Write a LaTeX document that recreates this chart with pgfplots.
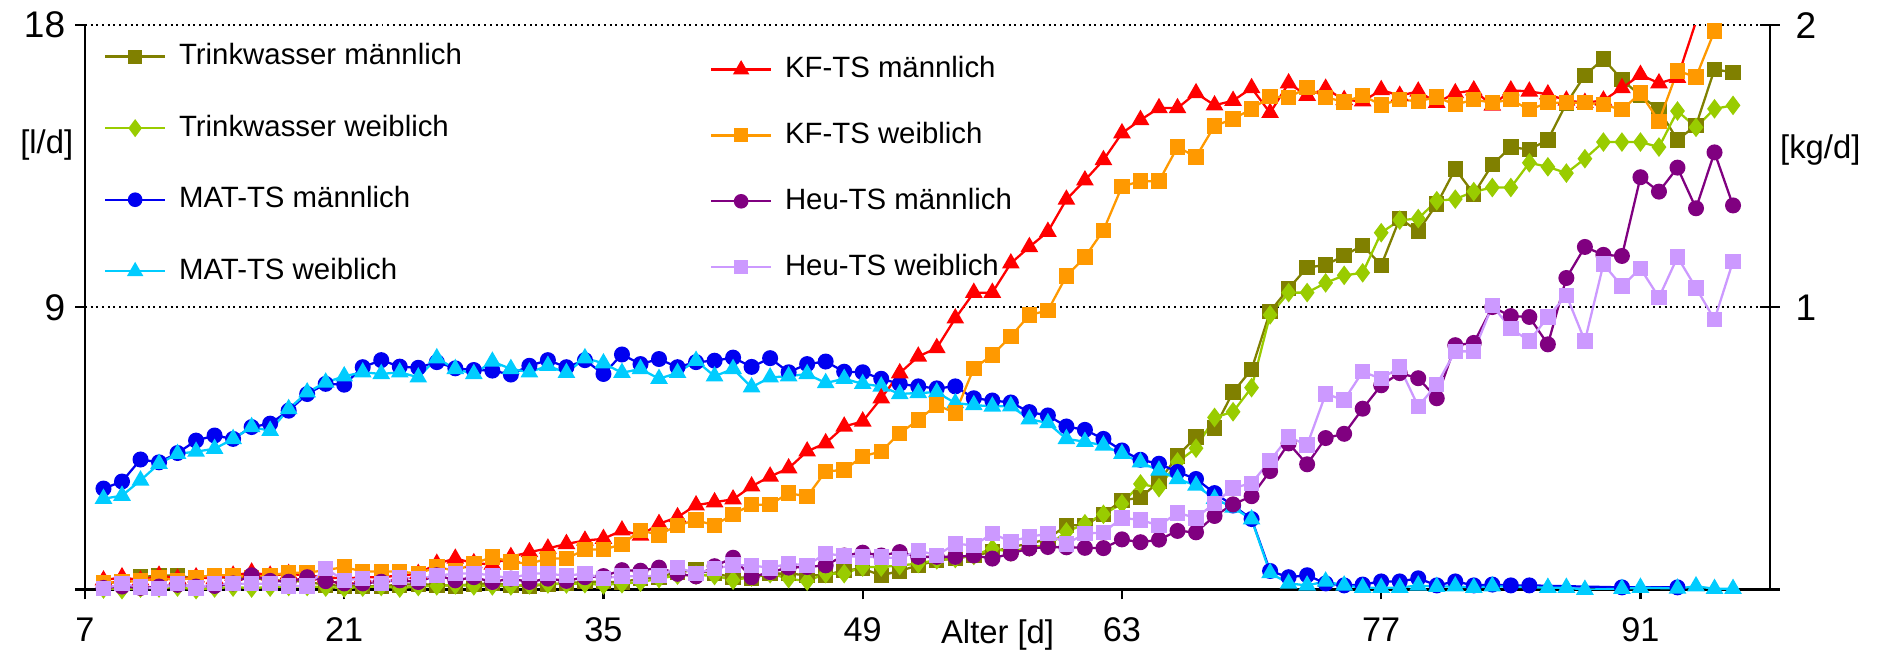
\documentclass[border=0pt]{standalone}
\usepackage{fontspec}
\setmainfont{Liberation Sans}
\usepackage{pgfplots}
\pgfplotsset{compat=1.18}
\definecolor{twm}{HTML}{808000}
\definecolor{tww}{HTML}{99CC00}
\definecolor{matm}{HTML}{0000F0}
\definecolor{matw}{HTML}{00CCFF}
\definecolor{kfm}{HTML}{FF0000}
\definecolor{kfw}{HTML}{FF9900}
\definecolor{heum}{HTML}{800080}
\definecolor{heuw}{HTML}{CC99FF}
\pgfplotsset{
  base/.style={scale only axis, width=591pt, height=198pt, xmin=7, xmax=98,
    /pgf/number format/assume math mode=true,
    tick label style={black},
    yticklabel style={font=\fontsize{13}{15}\selectfont},
    xticklabel style={font=\fontsize{12}{14}\selectfont},
    label style={font=\fontsize{11.5}{13}\selectfont},
    axis line style={line width=0.9pt},
    tick style={black, line width=0.8pt},
    legend cell align={left},
    legend image code/.code={\draw[mark repeat=2,mark phase=2,#1,mark options={scale=0.9}] plot coordinates {(0pt,0pt) (10.5pt,0pt) (21pt,0pt)};},
  },
  ser/.style={line width=0.8pt, color=#1, mark options={solid, fill=#1, draw=#1}},
  leg/.style={draw=none, fill=none, inner sep=0pt, anchor=north west,
    font=\fontsize{10.3}{12}\selectfont,
    nodes={inner sep=1pt, text height=8pt, text depth=2.2pt},
    /tikz/every odd column/.append style={column sep=3.5pt}},
}
\begin{document}
\begin{tikzpicture}
\useasboundingbox (-29.8pt,-22.1pt) rectangle (629.2pt,206.8pt);
\begin{axis}[base,
  ymin=0, ymax=18,
  axis x line*=bottom, axis y line*=left,
  xtick={7,21,35,49,63,77,91},
  ytick={0,9,18}, yticklabels={,9,18},
  tick align=outside, major tick length=3.4pt,
  xticklabel style={yshift=-3pt},
  ymajorgrids, grid style={black, line width=0.7pt, dash pattern=on 0.7pt off 1.3pt},
  xlabel={Alter [d]},
  xlabel style={at={(axis description cs:0.5416,0)}, anchor=base, yshift=-18.8pt},
  ylabel={[l/d]},
  ylabel style={rotate=-90, at={(axis description cs:-0.0227,0.787)}, anchor=center},
  legend style={leg, at={(axis description cs:0.011,0.976)}, row sep=12.9pt},
]
\addplot[ser=twm, mark=square*, mark size=2.3pt] coordinates {(8,0.20)(9,0.25)(10,0.40)(11,0.45)(12,0.45)(13,0.35)(14,0.42)(15,0.35)(16,0.38)(17,0.30)(18,0.28)(19,0.25)(20,0.15)(21,0.12)(22,0.10)(23,0.12)(24,0.15)(25,0.18)(26,0.15)(27,0.12)(28,0.18)(29,0.20)(30,0.15)(31,0.10)(32,0.18)(33,0.20)(34,0.25)(35,0.25)(36,0.24)(37,0.35)(38,0.40)(39,0.56)(40,0.62)(41,0.51)(42,0.40)(43,0.37)(44,0.51)(45,0.51)(46,0.46)(47,0.46)(48,0.62)(49,0.67)(50,0.45)(51,0.60)(52,0.77)(53,0.93)(54,0.99)(55,1.09)(56,1.20)(57,1.36)(58,1.46)(59,1.62)(60,2.05)(61,2.05)(62,2.40)(63,2.85)(64,2.93)(65,3.45)(66,4.26)(67,4.87)(68,5.15)(69,6.30)(70,7.02)(71,8.87)(72,9.60)(73,10.27)(74,10.35)(75,10.65)(76,10.98)(77,10.34)(78,11.83)(79,11.43)(80,12.29)(81,13.41)(82,12.62)(83,13.55)(84,14.11)(85,14.03)(86,14.34)(87,15.50)(88,16.40)(89,16.92)(90,16.26)(91,15.75)(92,15.30)(93,14.34)(94,14.80)(95,16.59)(96,16.49)};
\addplot[ser=tww, mark=diamond*, mark size=2.8pt] coordinates {(8,0.02)(9,0.00)(10,0.05)(11,0.05)(12,0.08)(13,0.00)(14,0.05)(15,0.08)(16,0.05)(17,0.08)(18,0.10)(19,0.10)(20,0.08)(21,0.05)(22,0.08)(23,0.10)(24,0.05)(25,0.10)(26,0.12)(27,0.15)(28,0.12)(29,0.12)(30,0.12)(31,0.15)(32,0.18)(33,0.18)(34,0.19)(35,0.15)(36,0.19)(37,0.24)(38,0.35)(39,0.46)(40,0.46)(41,0.45)(42,0.30)(43,0.40)(44,0.51)(45,0.35)(46,0.27)(47,0.51)(48,0.51)(49,0.72)(50,0.72)(51,0.77)(52,0.83)(53,0.95)(54,0.99)(55,1.09)(56,1.31)(57,1.20)(58,1.36)(59,1.41)(60,1.84)(61,2.10)(62,2.40)(63,2.74)(64,3.37)(65,3.25)(66,4.07)(67,4.51)(68,5.49)(69,5.67)(70,6.44)(71,8.76)(72,9.47)(73,9.47)(74,9.78)(75,10.02)(76,10.10)(77,11.38)(78,11.78)(79,11.83)(80,12.40)(81,12.45)(82,12.69)(83,12.82)(84,12.82)(85,13.61)(86,13.48)(87,13.28)(88,13.74)(89,14.27)(90,14.27)(91,14.27)(92,14.11)(93,15.26)(94,14.74)(95,15.33)(96,15.44)};
\addlegendimage{ser=matm, mark=*, mark size=2.4pt}
\addlegendimage{ser=matw, mark=triangle*, mark size=2.8pt}
\legend{Trinkwasser männlich, Trinkwasser weiblich, MAT-TS männlich, MAT-TS weiblich}
\end{axis}
\begin{axis}[base,
  ymin=0, ymax=2,
  hide x axis, axis y line*=right,
  ytick={0,1,2}, yticklabels={,1,2},
  tick align=center, major tick length=6.8pt,
  yticklabel style={xshift=2pt},
  ylabel={[kg/d]},
  ylabel style={rotate=-90, at={(axis description cs:1.0298,0.779)}, anchor=center},
  legend style={leg, at={(axis description cs:0.3706,0.953)}, row sep=10.9pt},
]
\addplot[ser=matm, mark=*, mark size=2.4pt, forget plot] coordinates {(8,.358)(9,.383)(10,.461)(11,.451)(12,.484)(13,.528)(14,.546)(15,.534)(16,.576)(17,.588)(18,.634)(19,.693)(20,.729)(21,.726)(22,.788)(23,.813)(24,.790)(25,.786)(26,.806)(27,.784)(28,.778)(29,.776)(30,.762)(31,.793)(32,.813)(33,.788)(34,.813)(35,.764)(36,.833)(37,.799)(38,.817)(39,.788)(40,.806)(41,.811)(42,.822)(43,.789)(44,.820)(45,.770)(46,.799)(47,.808)(48,.772)(49,.770)(50,.747)(51,.729)(52,.720)(53,.713)(54,.720)(55,.678)(56,.670)(57,.663)(58,.629)(59,.617)(60,.578)(61,.566)(62,.534)(63,.493)(64,.460)(65,.446)(66,.417)(67,.392)(68,.342)(69,.298)(70,.250)(71,.066)(72,.044)(73,.051)(74,.022)(75,.015)(76,.018)(77,.029)(78,.029)(79,.040)(80,.015)(81,.029)(82,.015)(83,.018)(84,.015)(85,.015)(90,.008)(93,.008)};
\addplot[ser=matw, mark=triangle*, mark size=2.8pt, forget plot] coordinates {(8,.322)(9,.333)(10,.387)(11,.446)(12,.481)(13,.489)(14,.499)(15,.534)(16,.576)(17,.563)(18,.640)(19,.699)(20,.734)(21,.756)(22,.770)(23,.764)(24,.770)(25,.752)(26,.820)(27,.782)(28,.764)(29,.808)(30,.782)(31,.770)(32,.793)(33,.768)(34,.820)(35,.802)(36,.768)(37,.782)(38,.747)(39,.768)(40,.811)(41,.756)(42,.782)(43,.717)(44,.752)(45,.756)(46,.764)(47,.732)(48,.747)(49,.729)(50,.720)(51,.693)(52,.697)(53,.699)(54,.661)(55,.654)(56,.649)(57,.650)(58,.604)(59,.590)(60,.534)(61,.524)(62,.511)(63,.481)(64,.451)(65,.422)(66,.392)(67,.369)(68,.322)(69,.291)(70,.249)(71,.059)(72,.022)(73,.015)(74,.029)(75,.015)(76,.007)(77,.007)(78,.007)(79,.015)(80,.010)(81,.012)(82,.007)(83,.012)(86,.007)(87,.007)(88,.000)(90,.003)(91,.007)(93,.004)(94,.012)(95,.003)(96,.003)};
\addplot[ser=kfm, mark=triangle*, mark size=2.8pt] coordinates {(8,.033)(9,.044)(10,.033)(11,.050)(12,.039)(13,.044)(14,.039)(15,.050)(16,.061)(17,.050)(18,.056)(19,.050)(20,.044)(21,.039)(22,.044)(23,.044)(24,.050)(25,.056)(26,.092)(27,.110)(28,.094)(29,.089)(30,.116)(31,.133)(32,.146)(33,.162)(34,.174)(35,.180)(36,.210)(37,.192)(38,.233)(39,.257)(40,.299)(41,.310)(42,.320)(43,.366)(44,.401)(45,.430)(46,.490)(47,.519)(48,.578)(49,.596)(50,.678)(51,.767)(52,.826)(53,.856)(54,.961)(55,1.052)(56,1.052)(57,1.156)(58,1.214)(59,1.268)(60,1.382)(61,1.450)(62,1.522)(63,1.617)(64,1.664)(65,1.706)(66,1.706)(67,1.759)(68,1.716)(69,1.732)(70,1.777)(71,1.689)(72,1.794)(73,1.750)(74,1.775)(75,1.735)(76,1.730)(77,1.770)(78,1.750)(79,1.765)(80,1.725)(81,1.759)(82,1.769)(83,1.715)(84,1.769)(85,1.765)(86,1.755)(87,1.733)(88,1.725)(89,1.733)(90,1.777)(91,1.824)(92,1.794)(93,1.813)};
\addplot[kfm, line width=0.8pt, forget plot] coordinates {(93,1.813)(94,2.012)(95,2.023)};
\addplot[ser=kfw, mark=square*, mark size=2.3pt] coordinates {(8,.024)(9,.028)(10,.030)(11,.041)(12,.033)(13,.044)(14,.051)(15,.051)(16,.044)(17,.051)(18,.060)(19,.060)(20,.069)(21,.080)(22,.064)(23,.064)(24,.064)(25,.057)(26,.080)(27,.067)(28,.092)(29,.116)(30,.098)(31,.092)(32,.110)(33,.110)(34,.142)(35,.142)(36,.160)(37,.210)(38,.194)(39,.228)(40,.246)(41,.228)(42,.267)(43,.301)(44,.301)(45,.342)(46,.330)(47,.419)(48,.424)(49,.472)(50,.490)(51,.554)(52,.601)(53,.654)(54,.626)(55,.784)(56,.831)(57,.897)(58,.973)(59,.989)(60,1.111)(61,1.178)(62,1.273)(63,1.428)(64,1.447)(65,1.447)(66,1.568)(67,1.533)(68,1.643)(69,1.667)(70,1.703)(71,1.746)(72,1.744)(73,1.778)(74,1.744)(75,1.728)(76,1.750)(77,1.717)(78,1.736)(79,1.730)(80,1.745)(81,1.718)(82,1.736)(83,1.725)(84,1.736)(85,1.700)(86,1.725)(87,1.725)(88,1.725)(89,1.718)(90,1.700)(91,1.759)(92,1.659)(93,1.838)(94,1.816)(95,1.979)};
\addplot[kfw, line width=0.8pt, forget plot] coordinates {(95,1.979)(96,2.06)};
\addplot[ser=heum, mark=*, mark size=2.4pt] coordinates {(8,.006)(9,.011)(10,.006)(11,.011)(12,.017)(13,.011)(14,.013)(15,.022)(16,.051)(17,.031)(18,.028)(19,.044)(20,.030)(21,.022)(22,.022)(23,.028)(24,.033)(25,.027)(26,.051)(27,.033)(28,.044)(29,.027)(30,.039)(31,.027)(32,.039)(33,.031)(34,.044)(35,.048)(36,.069)(37,.067)(38,.078)(39,.056)(40,.047)(41,.083)(42,.113)(43,.044)(44,.062)(45,.078)(46,.080)(47,.086)(48,.121)(49,.131)(50,.121)(51,.133)(52,.116)(53,.116)(54,.116)(55,.121)(56,.110)(57,.128)(58,.146)(59,.151)(60,.150)(61,.148)(62,.147)(63,.178)(64,.168)(65,.177)(66,.208)(67,.203)(68,.261)(69,.302)(70,.331)(71,.420)(72,.518)(73,.444)(74,.537)(75,.552)(76,.641)(77,.724)(78,.767)(79,.749)(80,.678)(81,.866)(82,.874)(83,1.001)(84,.969)(85,.966)(86,.869)(87,1.104)(88,1.214)(89,1.186)(90,1.182)(91,1.461)(92,1.410)(93,1.495)(94,1.351)(95,1.549)(96,1.361)};
\addplot[ser=heuw, mark=square*, mark size=2.3pt] coordinates {(8,.003)(9,.021)(10,.009)(11,.003)(12,.021)(13,.006)(14,.021)(15,.021)(16,.021)(17,.021)(18,.013)(19,.013)(20,.074)(21,.033)(22,.039)(23,.021)(24,.044)(25,.039)(26,.049)(27,.057)(28,.057)(29,.051)(30,.039)(31,.057)(32,.057)(33,.049)(34,.057)(35,.040)(36,.048)(37,.047)(38,.049)(39,.078)(40,.058)(41,.074)(42,.087)(43,.086)(44,.077)(45,.092)(46,.086)(47,.128)(48,.119)(49,.116)(50,.116)(51,.110)(52,.139)(53,.121)(54,.162)(55,.157)(56,.198)(57,.171)(58,.187)(59,.198)(60,.162)(61,.198)(62,.203)(63,.254)(64,.247)(65,.227)(66,.272)(67,.254)(68,.306)(69,.360)(70,.377)(71,.457)(72,.541)(73,.512)(74,.693)(75,.672)(76,.772)(77,.747)(78,.788)(79,.649)(80,.727)(81,.844)(82,.844)(83,1.006)(84,.925)(85,.881)(86,.966)(87,1.043)(88,.881)(89,1.153)(90,1.075)(91,1.138)(92,1.035)(93,1.178)(94,1.069)(95,.957)(96,1.163)};
\legend{KF-TS männlich, KF-TS weiblich, Heu-TS männlich, Heu-TS weiblich}
\end{axis}
\end{tikzpicture}
\end{document}
